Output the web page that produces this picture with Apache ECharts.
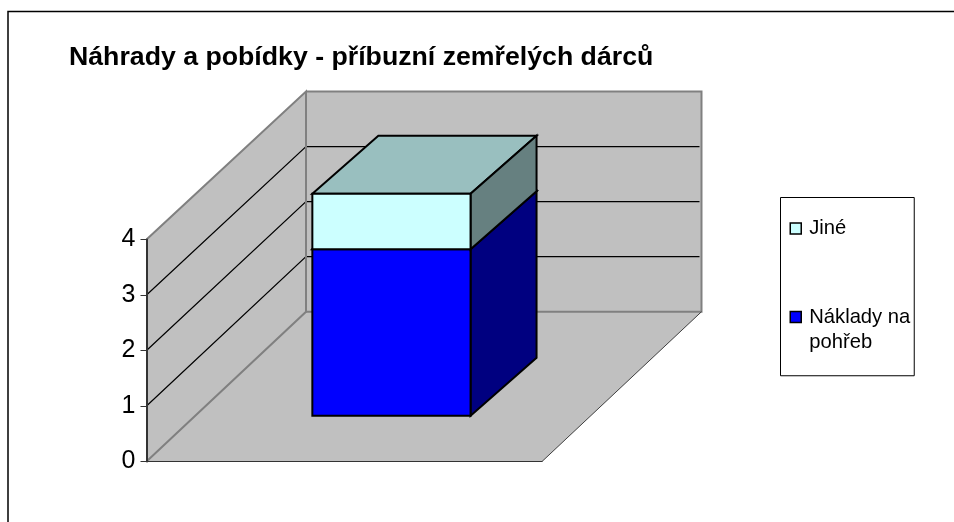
<!DOCTYPE html>
<html>
<head>
<meta charset="utf-8">
<title>Náhrady a pobídky</title>
<script src="https://cdn.jsdelivr.net/npm/echarts@6/dist/echarts.min.js"></script>
<style>
html,body{margin:0;padding:0;background:#fff}
#chart{width:954px;height:522px}
</style>
</head>
<body>
<div id="chart"></div>
<script>
// data
var categories = ['Příbuzní'];
var funeralValues = [3];
var otherValues = [1];
var gridValues = [1, 2, 3];
var valueTicks = [0, 4];

var seriesFuneral = 'Náklady na pohřeb';
var seriesOther = 'Jiné';

// fake 3D: how far the floor and the bar are pushed back from the front plane
var WALL_DX = 159.5, WALL_DY = 149.8, WALL_SHRINK = 0.45;
var BAR_WIDTH = 0.4;
var BAR_DX = 47.2, BAR_DY = 45.8, BAR_DEPTH_X = 66, BAR_DEPTH_Y = 58;

var myChart = echarts.init(document.getElementById('chart'));

// point on the back edge of the left wall for value v
function backPoint(api, v){
    var p = api.coord([0, v]);
    var left = p[0] - api.size([1, 0])[0] / 2;
    return [left + WALL_DX, p[1] - WALL_DY + WALL_SHRINK * v];
}

function renderWalls(params, api){
    var w = api.size([1, 0])[0];
    var c0 = api.coord([0, valueTicks[0]]);
    var c4 = api.coord([0, valueTicks[1]]);
    var left = c0[0] - w / 2, right = left + w;
    var b0 = backPoint(api, valueTicks[0]);
    var b4 = backPoint(api, valueTicks[1]);
    var backRight = b0[0] + w;
    var wallFill = {fill: '#C0C0C0', stroke: null};
    var edge = {stroke: '#808080', lineWidth: 2, fill: null};
    var children = [
        {type: 'polygon', shape: {points: [[left, c0[1]], [right, c0[1]], [backRight, b0[1]], b0]}, style: wallFill},
        {type: 'polygon', shape: {points: [[left, c0[1]], [left, c4[1]], b4, b0]}, style: wallFill},
        {type: 'polygon', shape: {points: [b0, b4, [backRight, b4[1]], [backRight, b0[1]]]}, style: wallFill}
    ];
    gridValues.forEach(function(v){
        var a = api.coord([0, v]);
        var b = backPoint(api, v);
        children.push({type: 'polyline', shape: {points: [[left, a[1]], b, [backRight - 2, b[1]]]},
            style: {stroke: '#000', lineWidth: 1.2, fill: null}});
    });
    children.push(
        {type: 'polyline', shape: {points: [[left, c0[1]], b0, b4, [left, c4[1]]]}, style: edge},
        {type: 'polyline', shape: {points: [b4, [backRight, b4[1]], [backRight, b0[1]], b0]}, style: edge},
        {type: 'line', shape: {x1: right, y1: c0[1], x2: backRight, y2: b0[1]}, style: {stroke: '#404040', lineWidth: 1}}
    );
    return {type: 'group', children: children};
}

// box between two values, front + side + top
function renderBox(sideColor, topColor){
    return function(params, api){
        var low = api.coord([api.value(0), api.value(1)]);
        var high = api.coord([api.value(0), api.value(2)]);
        var half = api.size([1, 0])[0] * BAR_WIDTH / 2;
        var x1 = low[0] - half + BAR_DX, x2 = low[0] + half + BAR_DX;
        var yLow = low[1] - BAR_DY, yHigh = high[1] - BAR_DY;
        var line = {stroke: '#000', lineWidth: 2, lineJoin: 'miter'};
        return {type: 'group', children: [
            {type: 'polygon', shape: {points: [[x1, yHigh], [x2, yHigh], [x2 + BAR_DEPTH_X, yHigh - BAR_DEPTH_Y], [x1 + BAR_DEPTH_X, yHigh - BAR_DEPTH_Y]]},
                style: Object.assign({fill: topColor}, line)},
            {type: 'polygon', shape: {points: [[x2, yLow], [x2 + BAR_DEPTH_X, yLow - BAR_DEPTH_Y], [x2 + BAR_DEPTH_X, yHigh - BAR_DEPTH_Y], [x2, yHigh]]},
                style: Object.assign({fill: sideColor}, line)},
            {type: 'rect', shape: {x: x1, y: yHigh, width: x2 - x1, height: yLow - yHigh},
                style: Object.assign({fill: api.visual('color')}, line)}
        ]};
    };
}

var option = {
    animation: false,
    backgroundColor: '#fff',
    textStyle: {fontFamily: '"Liberation Sans", Arial, sans-serif', color: '#000'},
    title: {
        text: 'Náhrady a pobídky - příbuzní zemřelých dárců',
        left: 69, top: 44, padding: 0,
        textStyle: {fontFamily: '"Liberation Sans", Arial, sans-serif', fontSize: 26.7, fontWeight: 'bold', color: '#000'}
    },
    grid: {left: 146.5, top: 239.5, width: 395.5, height: 222},
    xAxis: {
        type: 'category',
        data: categories,
        axisLine: {lineStyle: {color: '#333', width: 1}},
        axisTick: {show: false},
        axisLabel: {show: false},
        z: 5
    },
    yAxis: {
        type: 'value',
        min: 0, max: 4, interval: 1,
        axisLine: {show: true, lineStyle: {color: '#333', width: 2}},
        axisTick: {show: true, length: 6, lineStyle: {color: '#333', width: 1}},
        axisLabel: {fontSize: 25, margin: 11, color: '#000', fontFamily: '"Liberation Sans", Arial, sans-serif'},
        splitLine: {show: false},
        z: 5
    },
    legend: {
        orient: 'vertical',
        left: 780.5, top: 197.5,
        data: [seriesOther, seriesFuneral],
        // empty first line keeps the marker level with the first text line
        formatter: function(name){
            return name === seriesFuneral ? '\nNáklady na\npohřeb' : name;
        },
        icon: 'rect',
        itemWidth: 11, itemHeight: 11,
        itemGap: 37.5,
        padding: [18.25, 4, 20.5, 9],
        backgroundColor: '#fff',
        borderColor: '#000', borderWidth: 1,
        itemStyle: {borderColor: '#000', borderWidth: 1.5},
        textStyle: {fontSize: 20.2, lineHeight: 25.5, padding: [0, 0, 0, 3], color: '#000', fontFamily: '"Liberation Sans", Arial, sans-serif'}
    },
    graphic: [{
        type: 'polyline',
        silent: true,
        shape: {points: [[8, 522], [8, 11.5], [954, 11.5]]},
        style: {stroke: '#000', lineWidth: 1.5, fill: null}
    }],
    series: [
        {
            name: 'walls', type: 'custom', silent: true, clip: false, z: 1,
            data: [[0]],
            encode: {x: 0},
            renderItem: renderWalls
        },
        {
            name: seriesFuneral, type: 'custom', clip: false, z: 2,
            itemStyle: {color: '#0000FF'},
            data: categories.map(function(c, i){ return [i, 0, funeralValues[i]]; }),
            encode: {x: 0, y: [1, 2]},
            renderItem: renderBox('#000080', '#0000C0')
        },
        {
            name: seriesOther, type: 'custom', clip: false, z: 3,
            itemStyle: {color: '#CCFFFF'},
            data: categories.map(function(c, i){ return [i, funeralValues[i], funeralValues[i] + otherValues[i]]; }),
            encode: {x: 0, y: [1, 2]},
            renderItem: renderBox('#668080', '#99BFBF')
        }
    ]
};
myChart.setOption(option);
</script>
</body>
</html>
